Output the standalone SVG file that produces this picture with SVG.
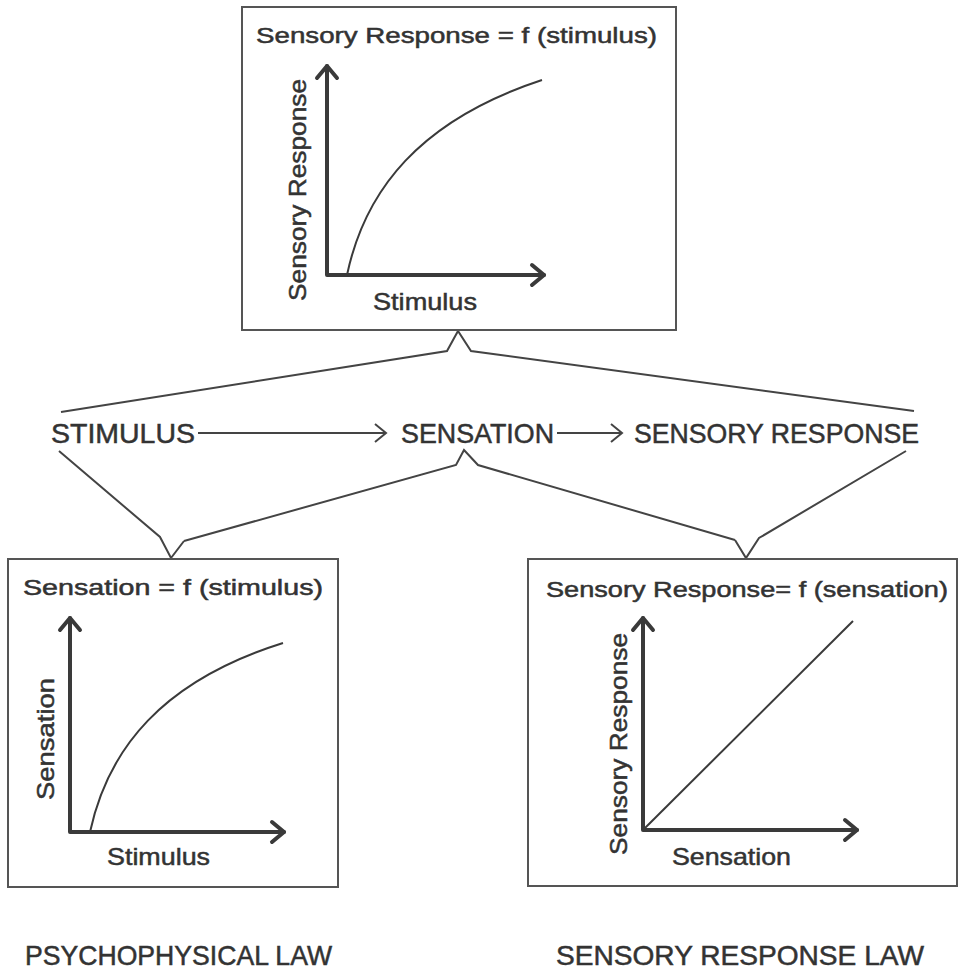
<svg xmlns="http://www.w3.org/2000/svg" width="960" height="971" viewBox="0 0 960 971">
<style>
.box{fill:#fff;stroke:#555;stroke-width:2}
.axis{fill:none;stroke:#3a3a3a;stroke-width:4;stroke-linecap:round;stroke-linejoin:round}
.curve{fill:none;stroke:#3a3a3a;stroke-width:2}
.conn{fill:none;stroke:#444;stroke-width:2;stroke-linejoin:miter}
.t{font-family:"Liberation Sans",Arial,sans-serif;fill:#333;stroke:#333;stroke-width:0.5}
.title{font-size:22px}
.lab{font-size:24px}
.cap{font-size:28px}
</style>
<rect width="960" height="971" fill="#fff"/>
<g id="connectors">
  <polyline class="conn" points="61,412 447,351 458,331 471,351 914,411"/>
  <polyline class="conn" points="184,541 456,465 464,450 478,465 735,540"/>
  <polyline class="conn" points="59,451 160,537 171,558 184,541"/>
  <polyline class="conn" points="906,451 759,538 746,558 735,540"/>
  <line class="conn" x1="198" y1="433" x2="385" y2="433"/>
  <polyline class="conn" points="375,424 386,433 375,442"/>
  <line class="conn" x1="557" y1="433" x2="621" y2="433"/>
  <polyline class="conn" points="611,424 622,433 611,442"/>
</g>
<g id="top-box">
  <rect class="box" x="242" y="7" width="434" height="323"/>
  <text class="t title" x="256" y="43" textLength="401" lengthAdjust="spacingAndGlyphs">Sensory  Response = f  (stimulus)</text>
  <polyline class="axis" points="327,66 327,275 544,275"/>
  <polyline class="axis" points="317,78 327,66 337,78"/>
  <polyline class="axis" points="532,265 544,275 532,285"/>
  <path class="curve" d="M347,275 C365,190 420,120 542,80"/>
  <text class="t lab" transform="translate(306,190) rotate(-90)" x="0" y="0" text-anchor="middle" textLength="222" lengthAdjust="spacingAndGlyphs">Sensory Response</text>
  <text class="t lab" x="373" y="310" textLength="104" lengthAdjust="spacingAndGlyphs">Stimulus</text>
</g>
<g id="stimulus">
  <text class="t cap" x="51" y="443" textLength="144" lengthAdjust="spacingAndGlyphs">STIMULUS</text>
</g>
<g id="sensation">
  <text class="t cap" x="401" y="443" textLength="153" lengthAdjust="spacingAndGlyphs">SENSATION</text>
</g>
<g id="sensory-response">
  <text class="t cap" x="634" y="443" textLength="285" lengthAdjust="spacingAndGlyphs">SENSORY RESPONSE</text>
</g>
<g id="left-box">
  <rect class="box" x="8" y="559" width="330" height="328"/>
  <text class="t title" x="23" y="595" textLength="300" lengthAdjust="spacingAndGlyphs">Sensation = f  (stimulus)</text>
  <polyline class="axis" points="70,618 70,832 284,832"/>
  <polyline class="axis" points="60,630 70,618 80,630"/>
  <polyline class="axis" points="272,822 284,832 272,842"/>
  <path class="curve" d="M90,832 C108,749 162,681 283,643"/>
  <text class="t lab" transform="translate(54,739) rotate(-90)" x="0" y="0" text-anchor="middle" textLength="122" lengthAdjust="spacingAndGlyphs">Sensation</text>
  <text class="t lab" x="107" y="865" textLength="103" lengthAdjust="spacingAndGlyphs">Stimulus</text>
</g>
<g id="right-box">
  <rect class="box" x="528" y="559" width="429" height="327"/>
  <text class="t title" x="546" y="597" textLength="402" lengthAdjust="spacingAndGlyphs">Sensory Response= f (sensation)</text>
  <polyline class="axis" points="643,618 643,830 857,830"/>
  <polyline class="axis" points="633,630 643,618 653,630"/>
  <polyline class="axis" points="845,820 857,830 845,840"/>
  <line class="curve" x1="643" y1="830" x2="853" y2="621"/>
  <text class="t lab" transform="translate(627,744) rotate(-90)" x="0" y="0" text-anchor="middle" textLength="222" lengthAdjust="spacingAndGlyphs">Sensory Response</text>
  <text class="t lab" x="672" y="865" textLength="119" lengthAdjust="spacingAndGlyphs">Sensation</text>
</g>
<g id="psychophysical-law">
  <text class="t cap" x="25" y="965" textLength="307" lengthAdjust="spacingAndGlyphs">PSYCHOPHYSICAL  LAW</text>
</g>
<g id="sensory-response-law">
  <text class="t cap" x="556" y="965" textLength="368" lengthAdjust="spacingAndGlyphs">SENSORY  RESPONSE  LAW</text>
</g>
</svg>
